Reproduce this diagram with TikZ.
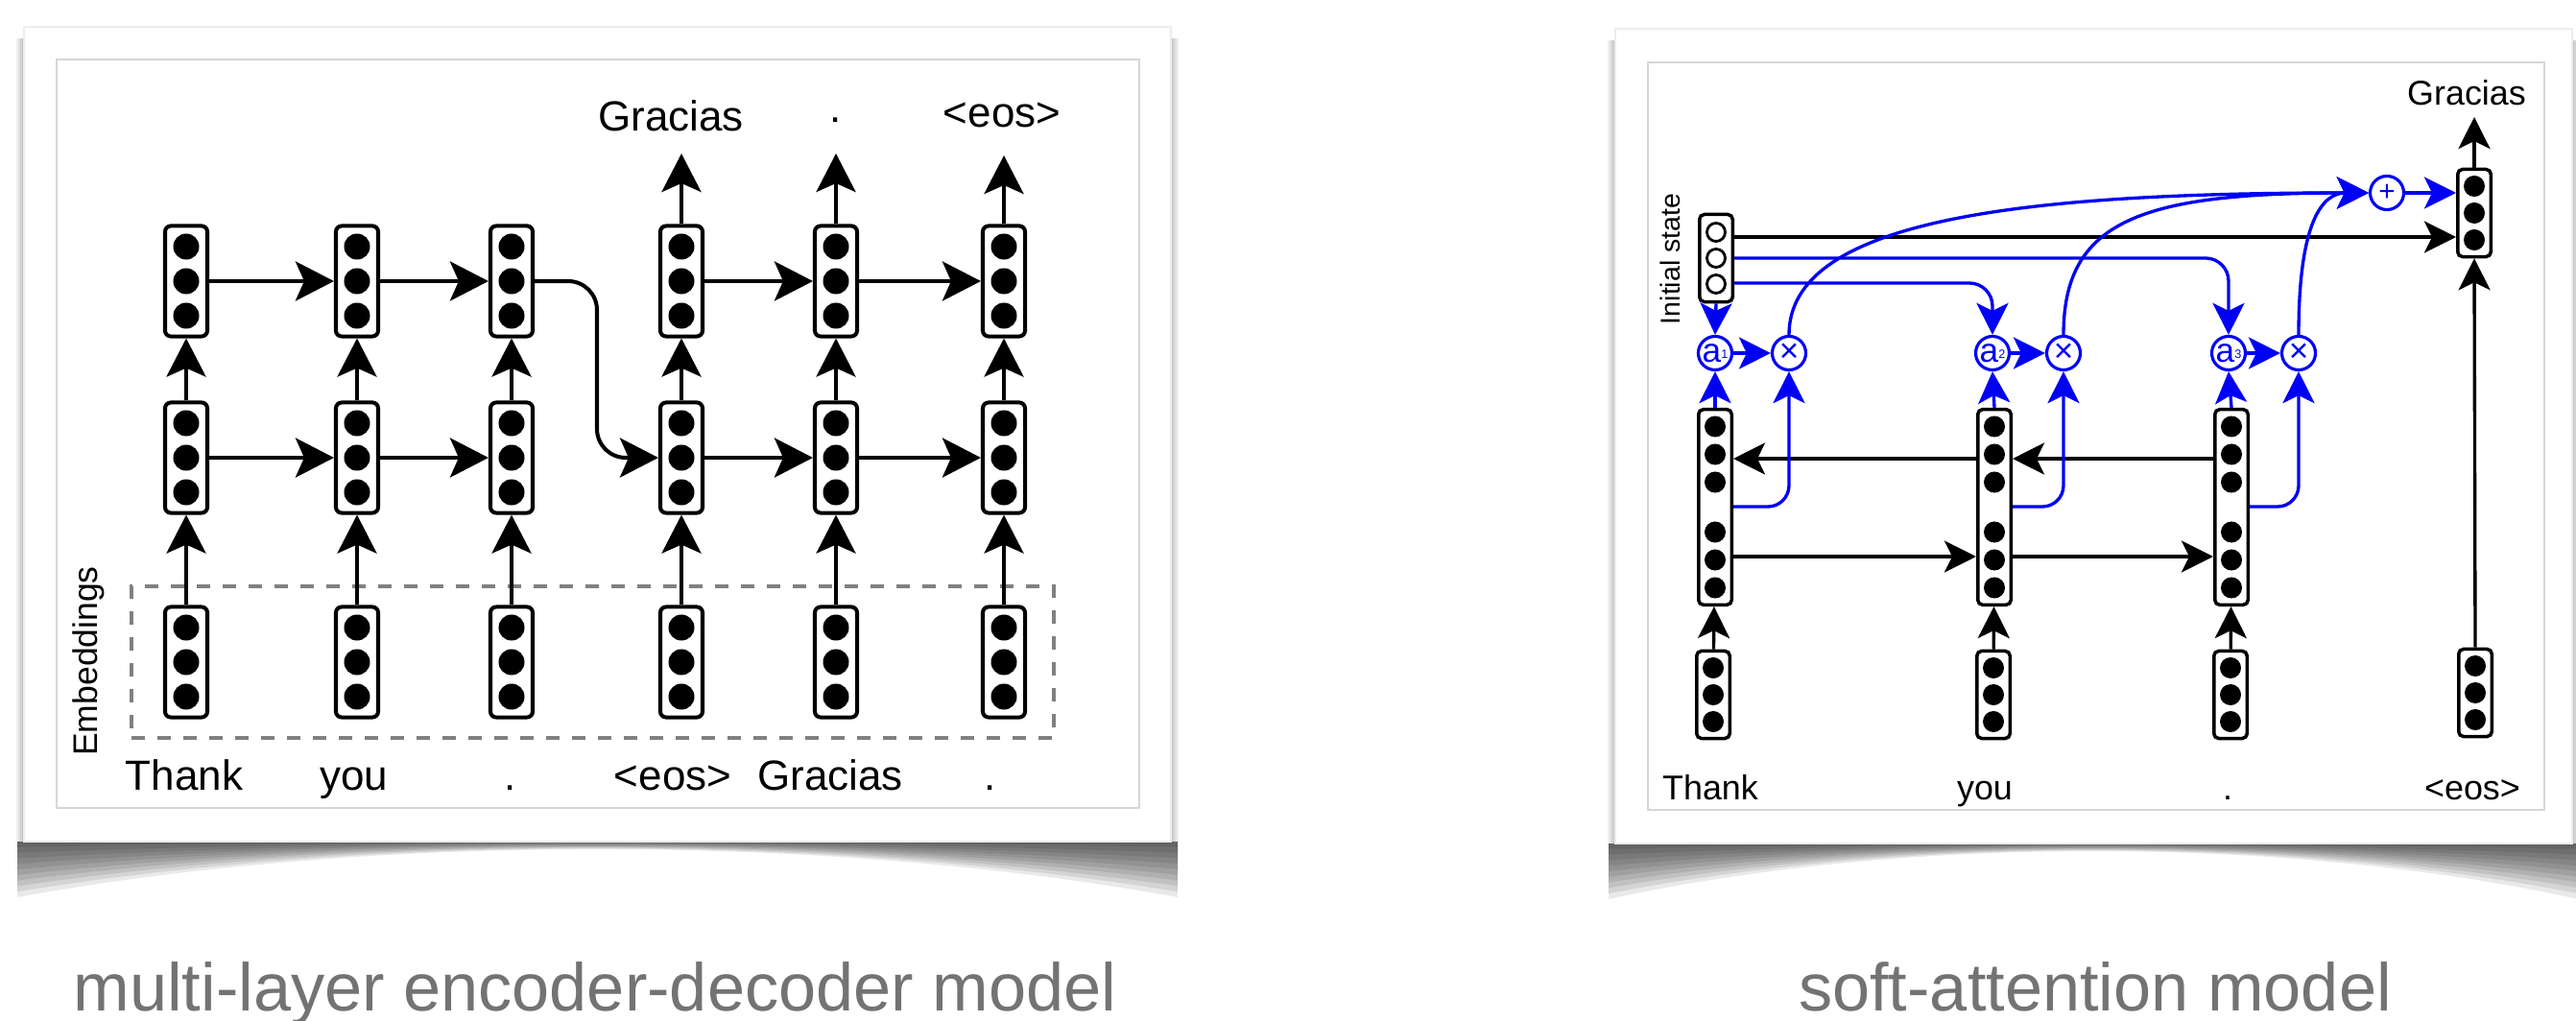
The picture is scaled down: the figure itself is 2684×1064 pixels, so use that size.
\documentclass[tikz,border=0pt]{standalone}
\usepackage{fontspec}
\setmainfont{Liberation Sans}
\usetikzlibrary{arrows.meta,calc}
\definecolor{attblue}{RGB}{0,0,245}
\newcommand\fLab{\fontsize{12.5}{15}\selectfont}
\newcommand\fEmb{\fontsize{10.1}{12}\selectfont}
\newcommand\fRLab{\fontsize{10.2}{12}\selectfont}
\newcommand\fInit{\fontsize{8.1}{10}\selectfont}
\newcommand\fCap{\fontsize{20}{24}\selectfont}
\newcommand\fCirc{\fontsize{10}{12}\selectfont}
\newcommand\fSub{\fontsize{3.6}{4}\selectfont}
\newcommand\LBox[3]{\node[lbox] (#1) at (#2,#3) {};
  \foreach \dy in {-36,0,36}{\fill ($(#1.center)+(0,\dy)$) circle[radius=0.135cm];}}
\newcommand\RBoxThree[3]{\node[rbox3] (#1) at (#2,#3) {};
  \foreach \dy in {-28,0,28}{\fill ($(#1.center)+(0,\dy)$) circle[radius=0.11cm];}}
\newcommand\RBoxSix[3]{\node[rbox6] (#1) at (#2,#3) {};
  \foreach \dy in {-84,-55,-26,26,55,84}{\fill ($(#1.center)+(0,\dy)$) circle[radius=0.11cm];}}
% card with shadow: x0, x1, ytop, ybottom
\newcommand\Card[4]{%
  \foreach \k in {1,...,10}{%
    \pgfmathsetmacro\dd{5.8*\k}%
    \pgfmathsetmacro\mm{0.8*\k}%
    \pgfmathsetmacro\cc{(8*\mm-2*\dd)/6}%
    \fill[black,opacity=0.085] ({#1-7},#4) -- ({#2+7},#4) -- ({#2+7},{#4+\dd})
      .. controls ({#2-0.3*(#2-#1)},{#4+(\cc)}) and ({#1+0.3*(#2-#1)},{#4+(\cc)}) .. ({#1-7},{#4+\dd}) -- cycle;}%
  \foreach \k in {1,...,4}{%
    \fill[black,opacity=0.06] ({#1-2*\k},{#3+12}) rectangle (#1,#4);
    \fill[black,opacity=0.06] (#2,{#3+12}) rectangle ({#2+2*\k},#4);}%
  \fill[white] (#1,#3) rectangle (#2,#4);
  \draw[black!7,line width=0.5pt] (#1,#3) rectangle (#2,#4);}
\begin{document}
\begin{tikzpicture}[x=0.01cm,y=-0.01cm,
  lbox/.style={draw,line width=1.15pt,rounded corners=0.06cm,minimum width=0.44cm,minimum height=1.15cm,inner sep=0pt,fill=white},
  rbox3/.style={draw,line width=1pt,rounded corners=0.05cm,minimum width=0.345cm,minimum height=0.91cm,inner sep=0pt,fill=white},
  rbox6/.style={draw,line width=1pt,rounded corners=0.05cm,minimum width=0.345cm,minimum height=2.035cm,inner sep=0pt,fill=white},
  larr/.style={-{Stealth[length=0.4cm,width=0.41cm,inset=0.09cm]},line width=1.15pt},
  rarr/.style={-{Stealth[length=0.33cm,width=0.33cm,inset=0.08cm]},line width=0.95pt},
  barr/.style={rarr,color=attblue},
  bcirc/.style={circle,draw=attblue,text=attblue,line width=0.9pt,minimum size=0.35cm,inner sep=0pt,fill=white,font=\fCirc},
  embrect/.style={draw=black!50,line width=1.1pt,dash pattern=on 0.14cm off 0.13cm,minimum width=9.61cm,minimum height=1.58cm,inner sep=0pt},
  cardframe/.style={draw=black!16,line width=0.6pt},
  lab/.style={anchor=base,font=\fLab},
  rlab/.style={anchor=base,font=\fRLab},
  captext/.style={anchor=base,font=\fCap,text=black!55}]
\useasboundingbox (0,0) rectangle (2684,1064);
\fill[white] (0,0) rectangle (2684,1064);

% ---------------- cards ----------------
\Card{25}{1220}{28}{877}
\Card{1683}{2680}{30}{879}
\draw[cardframe] (59,62) rectangle (1187,842);
\draw[cardframe] (1717,65) rectangle (2651,844);

% ================= LEFT: multi-layer encoder-decoder =================
\node[embrect] (embr) at (617.5,690) {};
\node[rotate=90,font=\fEmb] (emblab) at (92,689) {Embeddings};

\foreach \n/\x in {1/194,2/372,3/533,4/710,5/871,6/1046}{
  \LBox{t\n}{\x}{293}
  \LBox{m\n}{\x}{477}
  \LBox{e\n}{\x}{690}
}
\foreach \n in {1,...,6}{
  \draw[larr] (e\n) -- (m\n);
  \draw[larr] (m\n) -- (t\n);
}
\draw[larr] (t1) -- (t2);
\draw[larr] (t2) -- (t3);
\draw[larr] (t4) -- (t5);
\draw[larr] (t5) -- (t6);
\draw[larr] (m1) -- (m2);
\draw[larr] (m2) -- (m3);
\draw[larr] (m4) -- (m5);
\draw[larr] (m5) -- (m6);
\draw[larr,rounded corners=0.3cm] (t3.east) -- (622,293) -- (622,477) -- (m4.west);

\coordinate (o4) at (710,160);
\coordinate (o5) at (871,160);
\coordinate (o6) at (1046,162);
\draw[larr] (t4) -- (o4);
\draw[larr] (t5) -- (o5);
\draw[larr] (t6) -- (o6);

\node[lab] (top4) at (699,137) {Gracias};
\node[lab] (top5) at (871,128) {.};
\node[lab] (top6) at (1044,133) {<eos>};

\node[lab] (b1) at (192,823) {Thank};
\node[lab] (b2) at (369,823) {you};
\node[lab] (b3) at (532,823) {.};
\node[lab] (b4) at (701,823) {<eos>};
\node[lab] (b5) at (865,823) {Gracias};
\node[lab] (b6) at (1032,823) {.};

% ================= RIGHT: soft attention =================
% initial state
\node[rbox3] (init) at (1788,269) {};
\foreach \dy in {-27,0,27}{\draw[line width=0.8pt] ($(init.center)+(0,\dy)$) circle[radius=0.095cm];}
\node[rotate=90,font=\fInit] (initlab) at (1740,270) {Initial state};

% encoder
\RBoxSix{h1}{1787}{528.5}
\RBoxSix{h2}{2078}{528.5}
\RBoxSix{h3}{2325}{528.5}
% embeddings
\RBoxThree{r1}{1785}{724}
\RBoxThree{r2}{2077}{724}
\RBoxThree{r3}{2324}{724}
\RBoxThree{r4}{2579}{722}
% decoder
\RBoxThree{dec}{2578}{222}

% attention circles
\node[bcirc] (a1) at (1787,368) {a\raisebox{0.2ex}{\fSub 1}};
\node[bcirc] (a2) at (2076,368) {a\raisebox{0.2ex}{\fSub 2}};
\node[bcirc] (a3) at (2322,368) {a\raisebox{0.2ex}{\fSub 3}};
\node[bcirc] (x1) at (1864,368) {×};
\node[bcirc] (x2) at (2150,368) {×};
\node[bcirc] (x3) at (2395,368) {×};
\node[bcirc,font=\fontsize{8.5}{10}\selectfont] (plus) at (2487,201) {+};

% black connections
\draw[rarr] (r1) -- (h1);
\draw[rarr] (r2) -- (h2);
\draw[rarr] (r3) -- (h3);
\draw[rarr] (r4.north) -- (dec.south);
\draw[rarr] (h2.west |- 0,478) -- (h1.east |- 0,478);
\draw[rarr] (h3.west |- 0,478) -- (h2.east |- 0,478);
\draw[rarr] (h1.east |- 0,580) -- (h2.west |- 0,580);
\draw[rarr] (h2.east |- 0,580) -- (h3.west |- 0,580);
\draw[rarr] (init.east |- 0,247) -- (dec.west |- 0,247);
\coordinate (gout) at (2578,122);
\draw[rarr] (dec.north) -- (gout);

% blue connections
\draw[barr] (init.south) -- (a1.north);
\draw[barr,rounded corners=0.24cm] (init.east |- 0,295) -| (a2.north);
\draw[barr,rounded corners=0.24cm] (init.east |- 0,269) -| (a3.north);
\foreach \i in {1,2,3}{
  \draw[barr] (h\i.north) -- (a\i.south);
  \draw[barr] (a\i.east) -- (x\i.west);
  \draw[barr,rounded corners=0.22cm] (h\i.east |- 0,528) -| (x\i.south);
}
\draw[barr] (x1.north) .. controls (1864,230) and (2100,201) .. (plus.west);
\draw[barr] (x2.north) .. controls (2150,230) and (2230,201) .. (plus.west);
\draw[barr] (x3.north) .. controls (2395,230) and (2420,201) .. (plus.west);
\draw[barr] (plus.east) -- (dec.west |- plus);

\node[rlab] (rg) at (2570,110) {Gracias};
\node[rlab] (rb1) at (1782,833) {Thank};
\node[rlab] (rb2) at (2068,833) {you};
\node[rlab] (rb3) at (2321,833) {.};
\node[rlab] (rb4) at (2576,833) {<eos>};

% captions
\node[captext] (cap1) at (620,1053) {multi-layer encoder-decoder model};
\node[captext] (cap2) at (2183,1053) {soft-attention model};
\end{tikzpicture}
\end{document}
